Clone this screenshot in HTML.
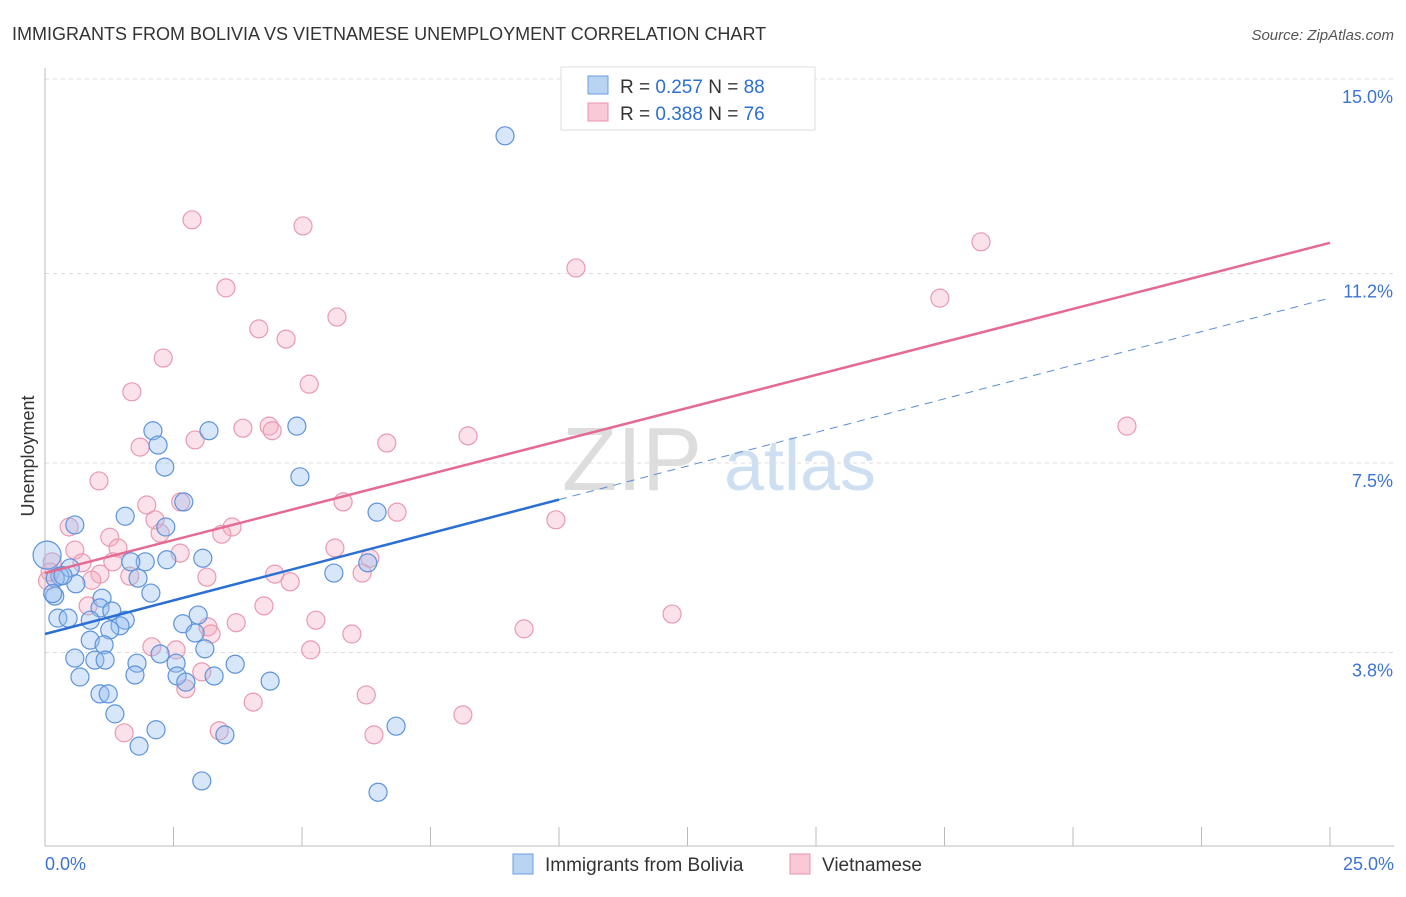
<!DOCTYPE html>
<html><head><meta charset="utf-8"><style>
body{margin:0;background:#fff;font-family:"Liberation Sans",sans-serif}
svg text{font-family:"Liberation Sans",sans-serif}
</style></head><body>
<svg id="chart" width="1406" height="892" xmlns="http://www.w3.org/2000/svg">
<text x="12" y="40" font-size="18" fill="#333">IMMIGRANTS FROM BOLIVIA VS VIETNAMESE UNEMPLOYMENT CORRELATION CHART</text>
<text x="1394" y="40" font-size="15" fill="#555" font-style="italic" text-anchor="end">Source: ZipAtlas.com</text>
<text x="34" y="456" font-size="18" fill="#333" transform="rotate(-90 34 456)" text-anchor="middle">Unemployment</text>
<g><text x="632" y="490" font-size="90" fill="#ddd" font-family="Liberation Serif" text-anchor="middle">ZIP</text><text x="800" y="490" font-size="72" fill="#cfdff2" text-anchor="middle">atlas</text></g>
<g id="grid"></g><g id="axes"></g><g id="pts"></g><g id="lines"></g>
<g>
<rect x="561" y="67" width="254" height="63" fill="#fff" stroke="#ddd"/>
<rect x="588" y="76" width="20" height="18" fill="#b9d3f3" stroke="#6c9ee0"/>
<rect x="588" y="103" width="20" height="18" fill="#f9c9d7" stroke="#e991ab"/>
<text x="620" y="93" font-size="19" fill="#333">R = <tspan fill="#2d6fd1">0.257</tspan>   N = <tspan fill="#2d6fd1">88</tspan></text>
<text x="620" y="120" font-size="19" fill="#333">R = <tspan fill="#2d6fd1">0.388</tspan>   N = <tspan fill="#2d6fd1">76</tspan></text>
</g>
<g>
<rect x="513" y="854" width="20" height="20" fill="#b9d3f3" stroke="#6c9ee0"/>
<text x="545" y="871" font-size="19" fill="#333">Immigrants from Bolivia</text>
<rect x="790" y="854" width="20" height="20" fill="#f9c9d7" stroke="#e991ab"/>
<text x="822" y="871" font-size="19" fill="#333">Vietnamese</text>
</g>
</svg>
<script>
const yTicks=[3.8,7.5,11.2,15.0];
const yTickLabels=["3.8%","7.5%","11.2%","15.0%"];
const xLabels=["0.0%","25.0%"];
const blueX=[8.95,2.10,2.20,3.19,4.90,2.33,4.96,1.56,0.58,2.35,2.70,6.46,1.95,2.37,3.07,1.67,1.81,5.62,6.28,0.49,0.29,0.60,2.06,0.19,1.11,1.07,1.30,0.25,0.45,0.88,1.56,1.46,2.98,2.68,2.92,1.26,0.88,1.15,0.58,0.97,1.17,1.79,2.24,2.55,3.11,3.70,0.68,1.75,2.57,2.74,3.29,4.38,1.07,1.23,1.36,2.16,1.83,3.50,6.83,3.05,6.48,0.04,0.20,0.35,0.15];
const blueY=[13.89,8.13,7.85,8.13,8.22,7.42,7.23,6.46,6.29,6.25,6.74,6.54,5.57,5.61,5.64,5.57,5.25,5.35,5.55,5.45,5.29,5.14,4.96,4.90,4.86,4.67,4.61,4.47,4.47,4.43,4.43,4.32,4.53,4.36,4.18,4.24,4.04,3.95,3.69,3.65,3.65,3.59,3.77,3.59,3.87,3.57,3.32,3.36,3.34,3.22,3.34,3.24,2.99,2.99,2.60,2.29,1.97,2.19,2.36,1.29,1.07,5.70,5.25,5.30,4.95];
const pinkX=[10.27,2.86,5.02,10.33,18.21,17.41,3.52,5.68,4.16,4.69,2.30,5.14,1.69,3.85,4.36,4.42,6.65,8.23,21.05,1.85,2.92,1.05,1.98,2.64,5.80,6.85,9.94,0.47,2.14,3.64,3.44,2.24,1.26,0.58,1.42,2.63,5.64,6.32,0.72,1.32,1.07,1.65,3.15,4.47,4.77,6.17,0.91,0.14,0.84,4.26,5.27,3.72,3.17,3.23,5.97,9.32,12.20,2.08,2.55,5.17,3.05,2.74,6.25,4.05,8.13,3.39,1.54,6.40,0.10,0.05];
const pinkY=[14.18,12.25,12.13,11.31,11.82,10.72,10.92,10.35,10.12,9.92,9.55,9.04,8.89,8.18,8.22,8.13,7.89,8.03,8.22,7.81,7.95,7.15,6.68,6.74,6.74,6.54,6.39,6.25,6.39,6.25,6.11,6.13,6.05,5.80,5.84,5.74,5.84,5.64,5.55,5.57,5.33,5.29,5.27,5.33,5.18,5.35,5.21,5.57,4.71,4.71,4.43,4.38,4.30,4.16,4.16,4.26,4.55,3.91,3.85,3.85,3.42,3.09,2.97,2.83,2.58,2.27,2.23,2.19,5.37,5.20];
const blueLine=[4.16,0.2625,10.0,25];   // intercept, slope, solid end, dashed end
const pinkLine=[5.35,0.258,25];
const X=v=>45+v*51.4, Y=v=>847-v*51.2;
const NS="http://www.w3.org/2000/svg";
function mk(p,t,a){const e=document.createElementNS(NS,t);for(const k in a)e.setAttribute(k,a[k]);p.appendChild(e);return e;}
const grid=document.getElementById('grid'),axes=document.getElementById('axes');
yTicks.forEach((t,i)=>{
 const l=mk(grid,'line',{x1:45,x2:1394,y1:Y(t),y2:Y(t),stroke:'#ddd','stroke-dasharray':'4,4'});
 
 
 const tx=mk(grid,'text',{x:1393,y:Y(t)+24,'font-size':18,fill:'#3c74d4','text-anchor':'end'});
 tx.textContent=yTickLabels[i];
 
 
});
const ax=mk(axes,'line',{x1:45,x2:45,y1:68,y2:846,stroke:'#bbb'});


const bx=mk(axes,'line',{x1:45,x2:1394,y1:846,y2:846,stroke:'#bbb'});


for(let i=0;i<=10;i++){const v=i*2.5;const t=mk(axes,'line',{x1:X(v),x2:X(v),y1:827,y2:846,stroke:'#bbb'});
 
 }
const l0=mk(axes,'text',{x:45,y:870,'font-size':18,fill:'#3c74d4'});l0.textContent=xLabels[0];


const l1=mk(axes,'text',{x:1394,y:870,'font-size':18,fill:'#3c74d4','text-anchor':'end'});l1.textContent=xLabels[1];


const pts=document.getElementById('pts');
pinkX.forEach((x,i)=>{const c=mk(pts,'circle',{cx:X(x),cy:Y(pinkY[i]),r:9,fill:'rgba(244,170,192,0.35)',stroke:'#e99ab0','stroke-width':1.2});
 
 });
blueX.forEach((x,i)=>{const c=mk(pts,'circle',{cx:X(x),cy:Y(blueY[i]),r:i==61?14:9,fill:'rgba(150,190,238,0.38)',stroke:'#5d93dc','stroke-width':1.2});
 
 });
const lines=document.getElementById('lines');
const b1=mk(lines,'line',{x1:X(0),y1:Y(blueLine[0]),x2:X(blueLine[2]),y2:Y(blueLine[0]+blueLine[1]*blueLine[2]),stroke:'#2b6fd3','stroke-width':2.5});


const b2=mk(lines,'line',{x1:X(blueLine[2]),y1:Y(blueLine[0]+blueLine[1]*blueLine[2]),x2:X(blueLine[3]),y2:Y(blueLine[0]+blueLine[1]*blueLine[3]),stroke:'#5b8fd8','stroke-width':1,'stroke-dasharray':'8,6'});


const p1=mk(lines,'line',{x1:X(0),y1:Y(pinkLine[0]),x2:X(pinkLine[2]),y2:Y(pinkLine[0]+pinkLine[1]*pinkLine[2]),stroke:'#e46a92','stroke-width':2.5});


</script>
</body></html>
